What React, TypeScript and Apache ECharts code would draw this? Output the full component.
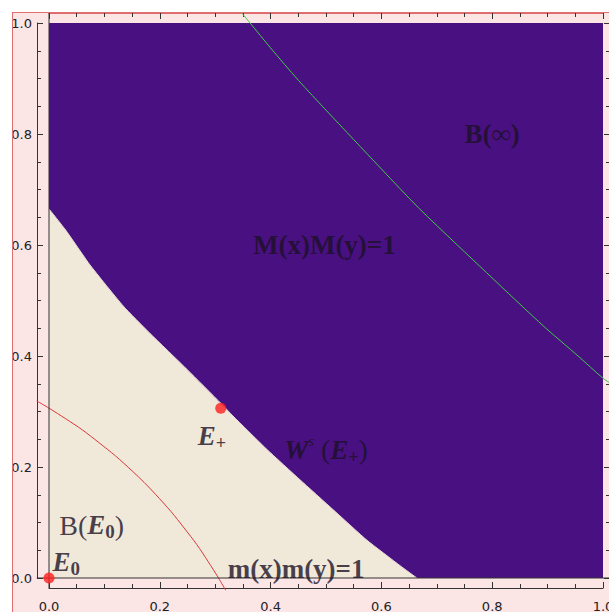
import React, { useEffect, useRef } from "react";
import * as echarts from "echarts";

// Boundary of the basin (purple above, beige below)
const boundaryX = [0, 0.03, 0.074, 0.134, 0.182, 0.25, 0.31, 0.332, 0.394, 0.453, 0.513, 0.574, 0.634, 0.664];
const boundaryY = [0.665, 0.627, 0.564, 0.49, 0.441, 0.375, 0.315, 0.292, 0.231, 0.177, 0.123, 0.068, 0.022, 0];

// m(x)m(y)=1 (red)
const redX = [-0.022, 0, 0.03, 0.06, 0.09, 0.12, 0.15, 0.172, 0.193, 0.22, 0.244, 0.267, 0.287, 0.306, 0.319];
const redY = [0.319, 0.306, 0.287, 0.267, 0.244, 0.22, 0.193, 0.172, 0.15, 0.12, 0.09, 0.06, 0.03, 0, -0.022];

// M(x)M(y)=1 (green)
const greenX = [0.348, 0.363, 0.4, 0.45, 0.5, 0.55, 0.6, 0.667, 0.737, 0.79, 0.843, 0.897, 0.955, 1.0, 1.018];
const greenY = [1.018, 1.0, 0.955, 0.897, 0.843, 0.79, 0.737, 0.667, 0.6, 0.55, 0.5, 0.45, 0.4, 0.36, 0.348];

// Equilibria
const pointX = [0, 0.31];
const pointY = [0, 0.306];

// Axis lines x=0 and y=0
const vAxisX = [0, 0];
const vAxisY = [-0.018, 1.018];
const hAxisX = [-0.022, 1.012];
const hAxisY = [0, 0];

// Annotations
const labelX = [0.8, 0.497, 0.446, 0.5, 0.294, 0.077, 0.031];
const labelY = [0.8, 0.6, 0.016, 0.231, 0.256, 0.095, 0.029];
const labelText = [
  "{bd|B(∞)}",
  "{bd|M(x)M(y)=1}",
  "{bd|m(x)m(y)=1}",
  "{it|W}{sp|s}{rg| (}{it|E}{sb|+}{rg|)}",
  "{it|E}{sb|+}",
  "{rg|B(}{it|E}{s0|0}{rg|)}",
  "{it|E}{s0|0}",
];

const tickFmt = (v: number) => v.toFixed(1);

const SERIF = "'Liberation Serif', 'Times New Roman', serif";
const SANS = "'DejaVu Sans', sans-serif";
const TXT = "#1a1024";
const AX = "#333";

function pairs(xs: number[], ys: number[]) {
  return xs.map((x, i) => [x, ys[i]]);
}

function curveSeries(xs: number[], ys: number[], color: string, smooth: number, z: number) {
  return {
    type: "custom",
    coordinateSystem: "cartesian2d",
    data: [[xs[0], ys[0]]],
    clip: false,
    silent: true,
    z,
    renderItem: (_params: any, api: any) => ({
      type: "polyline",
      shape: { points: xs.map((x, i) => api.coord([x, ys[i]])), smooth },
      style: { stroke: color, lineWidth: 1, fill: null },
    }),
  };
}

export default function App() {
  const ref = useRef<HTMLDivElement>(null);

  useEffect(() => {
    if (!ref.current) return;
    const chart = echarts.init(ref.current, undefined, { renderer: "svg" });

    const frameAxis = (pos: string, labels: boolean, lineColor: string, offset: number) => ({
      type: "value",
      min: 0,
      max: 1,
      interval: 0.2,
      position: pos,
      offset,
      axisLine: { show: true, onZero: false, lineStyle: { color: lineColor, width: 1 } },
      axisTick: { show: true, inside: true, length: 6, lineStyle: { color: AX, width: 1 } },
      minorTick: { show: true, splitNumber: 4, length: 4, lineStyle: { color: AX, width: 1 } },
      axisLabel: labels
        ? { show: true, fontFamily: SANS, fontSize: 13, color: "#222", formatter: tickFmt, margin: pos === "left" ? 5 : 12 }
        : { show: false },
      splitLine: { show: false },
      minorSplitLine: { show: false },
    });

    chart.setOption({
      animation: false,
      grid: {
        left: 49,
        top: 23,
        width: 554,
        height: 555,
        show: true,
        backgroundColor: "#491082",
        borderWidth: 0,
        containLabel: false,
        outerBoundsMode: "none",
      },
      xAxis: [frameAxis("bottom", true, AX, 10), frameAxis("top", false, "#e06a6a", 10)],
      yAxis: [frameAxis("left", true, AX, 12), frameAxis("right", false, AX, 7)],
      series: [
        {
          type: "line",
          data: pairs(boundaryX, boundaryY),
          showSymbol: false,
          smooth: 0.15,
          lineStyle: { width: 1, color: "#e9dcd8" },
          areaStyle: { color: "#f0e8d8", opacity: 1 },
          z: 1,
        },
        curveSeries(redX, redY, "#d63a3a", 0.3, 3),
        curveSeries(greenX, greenY, "#3fc84a", 0.3, 3),
        curveSeries(vAxisX, vAxisY, AX, 0, 4),
        curveSeries(hAxisX, hAxisY, AX, 0, 4),
        {
          type: "scatter",
          data: pairs(pointX, pointY),
          symbolSize: 11,
          clip: false,
          itemStyle: { color: "#ff1f1f" },
          z: 6,
        },
        {
          type: "scatter",
          data: pairs(labelX, labelY),
          symbolSize: 1,
          itemStyle: { color: "rgba(0,0,0,0)" },
          clip: false,
          z: 7,
          label: {
            show: true,
            position: "inside",
            formatter: (p: any) => labelText[p.dataIndex],
            rich: {
              bd: { fontFamily: SERIF, fontSize: 27, fontWeight: "bold", color: TXT, lineHeight: 32 },
              rg: { fontFamily: SERIF, fontSize: 28, color: TXT, lineHeight: 32 },
              it: { fontFamily: SERIF, fontSize: 27, fontWeight: "bold", fontStyle: "italic", color: TXT, lineHeight: 32 },
              sb: { fontFamily: SERIF, fontSize: 18, fontWeight: "bold", color: TXT, lineHeight: 16, verticalAlign: "bottom" },
              s0: { fontFamily: SERIF, fontSize: 19, fontWeight: "bold", color: TXT, lineHeight: 24, verticalAlign: "bottom" },
              sp: { fontFamily: SERIF, fontSize: 15, fontStyle: "italic", color: TXT, lineHeight: 16, verticalAlign: "top" },
            },
          },
          emphasis: { disabled: true },
        },
      ],
    });

    return () => chart.dispose();
  }, []);

  return (
    <div style={{ position: "fixed", left: 0, top: 0, width: 609, height: 612, background: "#ffffff", overflow: "hidden" }}>
      <div
        style={{
          position: "absolute",
          left: 12,
          top: 12,
          width: 597,
          height: 600,
          boxSizing: "border-box",
          background: "#fce5e5",
          borderLeft: "1px solid #e07070",
          borderTop: "1px solid #e07070",
          overflow: "hidden",
        }}
      >
        <div ref={ref} style={{ position: "absolute", left: -13, top: -13, width: 609, height: 612 }} />
      </div>
    </div>
  );
}
